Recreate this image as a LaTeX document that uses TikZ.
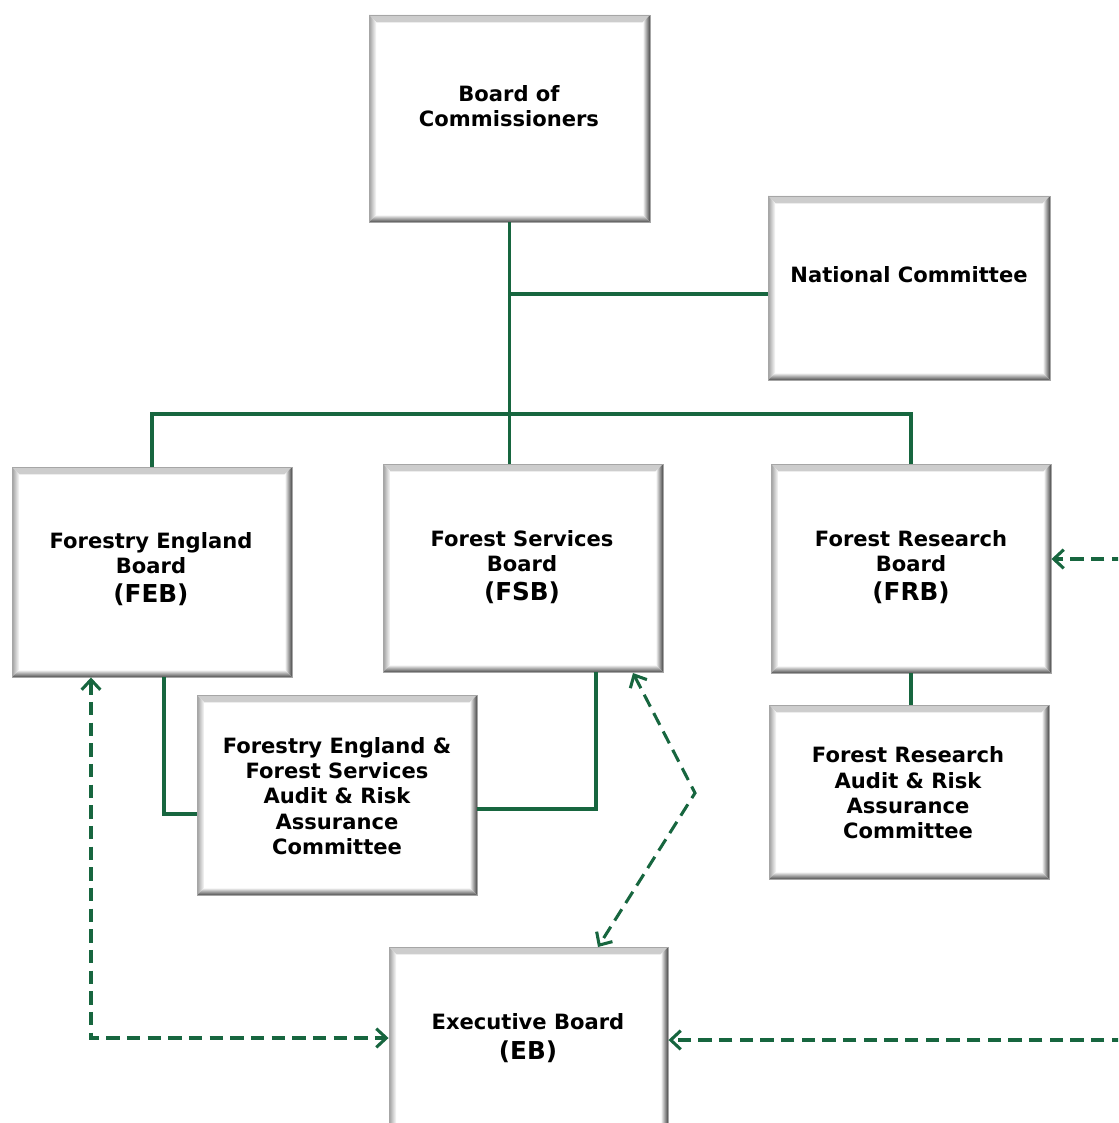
\documentclass[tikz,border=0pt]{standalone}
\usepackage{fontspec}
\setmainfont{DejaVu Sans}
\usetikzlibrary{arrows.meta,calc}
\definecolor{fgreen}{HTML}{17663F}
\newcommand\bw{5.5pt}
\tikzset{
  bev/.style={draw=black!35, line width=0.7pt, fill=white, inner sep=0pt,
    path picture={
      \shade[top color=black!20, bottom color=white]
        (path picture bounding box.north west) -- (path picture bounding box.north east)
        -- ([shift={(-\bw,-\bw)}]path picture bounding box.north east)
        -- ([shift={(\bw,-\bw)}]path picture bounding box.north west) -- cycle;
      \shade[left color=black!38, right color=white]
        (path picture bounding box.north west) -- (path picture bounding box.south west)
        -- ([shift={(\bw,\bw)}]path picture bounding box.south west)
        -- ([shift={(\bw,-\bw)}]path picture bounding box.north west) -- cycle;
      \shade[left color=white, right color=black!72]
        (path picture bounding box.north east) -- (path picture bounding box.south east)
        -- ([shift={(-\bw,\bw)}]path picture bounding box.south east)
        -- ([shift={(-\bw,-\bw)}]path picture bounding box.north east) -- cycle;
      \shade[top color=white, bottom color=black!68]
        (path picture bounding box.south west) -- (path picture bounding box.south east)
        -- ([shift={(-\bw,\bw)}]path picture bounding box.south east)
        -- ([shift={(\bw,\bw)}]path picture bounding box.south west) -- cycle;
    }},
  txt/.style={align=center, inner sep=0pt, font=\bfseries\fontsize{15.8pt}{19pt}\selectfont},
  conn/.style={draw=fgreen, line width=2.3pt},
  dconn/.style={draw=fgreen, line width=2.3pt, dash pattern=on 10pt off 5.5pt},
  tip/.tip={Straight Barb[length=7.5pt,width=14pt]},
}
\newcommand\bevbox[5]{\node[bev, minimum width={(#4-#2)*0.75pt}, minimum height={(#5-#3)*0.75pt}] (#1) at ({(#2+#4)/2},{(#3+#5)/2}) {};}
\newcommand\acr[1]{{\fontsize{18.5pt}{22pt}\selectfont #1}}
\begin{document}
\begin{tikzpicture}[x=0.75pt,y=-0.75pt]
\useasboundingbox (0,0) rectangle (1118,1123);
\clip (0,0) rectangle (1118,1123);
% boxes
\bevbox{boc}{369}{15}{650}{222}
\bevbox{nc}{768}{196}{1050}{380}
\bevbox{feb}{12}{467}{292}{677}
\bevbox{fsb}{383}{464}{663}{672}
\bevbox{frb}{771}{464}{1051}{673}
\bevbox{arac}{197}{695}{477}{895}
\bevbox{frarac}{769}{705}{1049}{879}
\bevbox{eb}{389}{947}{668}{1135}
% texts
\node[txt] (tboc) at (509,106) {Board of\\Commissioners};
\node[txt] (tnc) at (909,275) {National Committee};
\node[txt] (tfeb) at (151,569) {Forestry England\\Board\\[3pt]\acr{(FEB)}};
\node[txt] (tfsb) at (522,567) {Forest Services\\Board\\[3pt]\acr{(FSB)}};
\node[txt] (tfrb) at (911,567) {Forest Research\\Board\\[3pt]\acr{(FRB)}};
\node[txt] (tarac) at (337,796) {Forestry England \&\\Forest Services\\Audit \& Risk\\Assurance\\Committee};
\node[txt] (tfrarac) at (908,793) {Forest Research\\Audit \& Risk\\Assurance\\Committee};
\node[txt] (teb) at (528,1038) {Executive Board\\[3pt]\acr{(EB)}};
% solid connectors
\coordinate (j1) at (510,294);
\coordinate (bus) at (510,414);
\draw[conn] (boc.south) -- (boc.south |- fsb.north);
\draw[conn] (j1) -- (j1 -| nc.west);
\draw[conn] (feb.north) -- (feb.north |- bus) -- (frb.north |- bus) -- (frb.north);
\draw[conn] (frb.south) -- (frb.south |- frarac.north);
\coordinate (a1) at (164,814);
\coordinate (a2) at (596,809);
\draw[conn] (a1 |- feb.south) -- (a1) -- (a1 -| arac.west);
\draw[conn] (a2 |- fsb.south) -- (a2) -- (a2 -| arac.east);
% dashed connectors
\coordinate (d1) at (91,1038);
\draw[dconn, tip-tip] (d1 |- feb.south) -- (d1) -- (d1 -| eb.west);
\coordinate (d2) at (695,793);
\coordinate (d2a) at (633,673);
\coordinate (d2b) at (598,947);
\draw[dconn, tip-tip] (d2a) -- (d2) -- (d2b);
\coordinate (r1) at (1125,559);
\coordinate (r2) at (1125,1040);
\draw[dconn, -tip] (r1) -- (r1 -| frb.east);
\draw[dconn, -tip] (r2) -- (r2 -| eb.east);
\end{tikzpicture}
\end{document}
